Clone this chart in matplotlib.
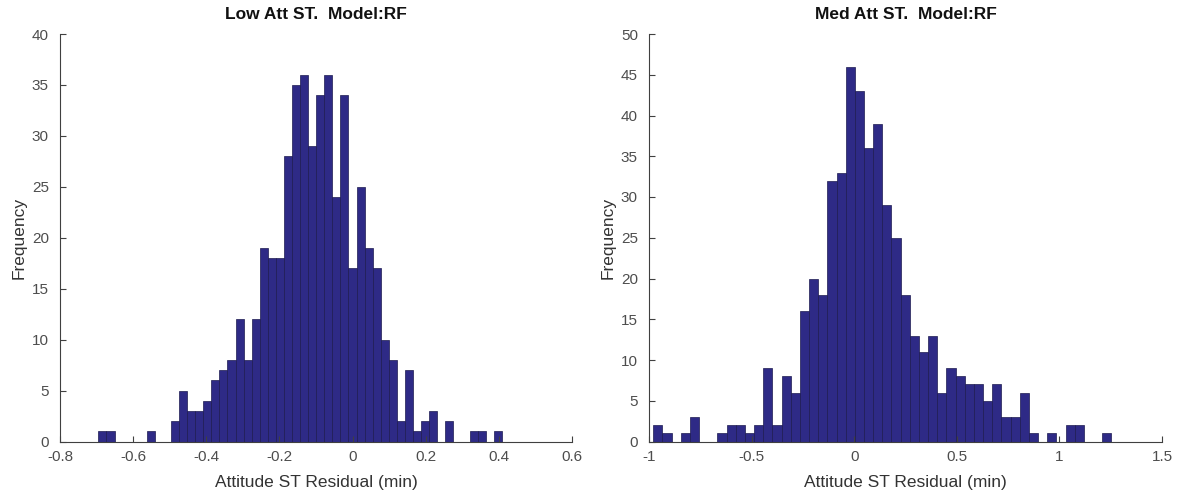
import numpy as np
import matplotlib
matplotlib.use("Agg")
import matplotlib.pyplot as plt

plt.rcParams['font.family'] = ['Liberation Sans', 'DejaVu Sans']
plt.rcParams['axes.unicode_minus'] = False

# ---- data ----
low_counts = [1, 1, 0, 0, 0, 0, 1, 0, 0, 2,
              5, 3, 3, 4, 6, 7, 8, 12, 8, 12,
              19, 18, 18, 28, 35, 36, 29, 34, 36, 24,
              34, 17, 25, 19, 17, 10, 8, 2, 7, 1,
              2, 3, 0, 2, 0, 0, 1, 1, 0, 1]
low_range = (-0.695, 0.408)
low_xticks = [-0.8, -0.6, -0.4, -0.2, 0, 0.2, 0.4, 0.6]
low_xticklabels = ['-0.8', '-0.6', '-0.4', '-0.2', '0', '0.2', '0.4', '0.6']
low_yticks = [0, 5, 10, 15, 20, 25, 30, 35, 40]

med_counts = [2, 1, 0, 1, 3, 0, 0, 1, 2, 2,
              1, 2, 9, 2, 8, 6, 16, 20, 18, 32,
              33, 46, 43, 36, 39, 29, 25, 18, 13, 11,
              13, 6, 9, 8, 7, 7, 5, 7, 3, 3,
              6, 1, 0, 1, 0, 2, 2, 0, 0, 1]
med_range = (-0.979, 1.253)
med_xticks = [-1, -0.5, 0, 0.5, 1, 1.5]
med_xticklabels = ['-1', '-0.5', '0', '0.5', '1', '1.5']
med_yticks = [0, 5, 10, 15, 20, 25, 30, 35, 40, 45, 50]

titles = ['Low Att ST.  Model:RF', 'Med Att ST.  Model:RF']
xlabel = 'Attitude ST Residual (min)'
ylabel = 'Frequency'

# ---- style ----
bar_color = '#2e2a86'
edge_color = '#1c1a50'
axis_color = '#404040'

W, H = 1183, 492
fig = plt.figure(figsize=(W / 100, H / 100), dpi=100)

bottom = (H - 441.5) / H
height = (441.5 - 34) / H
ax1 = fig.add_axes([60 / W, bottom, 512 / W, height])
ax2 = fig.add_axes([649 / W, bottom, 513 / W, height])


def draw(ax, counts, rng, xticks, xticklabels, yticks, title):
    n = len(counts)
    edges = np.linspace(rng[0], rng[1], n + 1)
    ax.hist(edges[:-1], bins=edges, weights=counts, color=bar_color,
            edgecolor=edge_color, linewidth=0.5)
    ax.set_xlim(xticks[0], xticks[-1])
    ax.set_ylim(yticks[0], yticks[-1])
    ax.set_xticks(xticks)
    ax.set_xticklabels(xticklabels)
    ax.set_yticks(yticks)
    for s in ['top', 'right']:
        ax.spines[s].set_visible(False)
    for s in ['left', 'bottom']:
        ax.spines[s].set_color(axis_color)
        ax.spines[s].set_linewidth(0.8)
    ax.tick_params(direction='in', length=4, width=0.8, colors=axis_color,
                   labelsize=11, labelcolor='#4d4d4d')
    ax.tick_params(axis='x', pad=6)
    ax.tick_params(axis='y', pad=8)
    ax.set_xlabel(xlabel, fontsize=12.5, color='#333333', labelpad=8)
    ax.set_ylabel(ylabel, fontsize=12.5, color='#333333', labelpad=4)
    ax.set_title(title, fontsize=12.5, fontweight='bold', color='#111111', pad=10.5)


draw(ax1, low_counts, low_range, low_xticks, low_xticklabels, low_yticks, titles[0])
draw(ax2, med_counts, med_range, med_xticks, med_xticklabels, med_yticks, titles[1])

fig.savefig('out.png', dpi=100)
